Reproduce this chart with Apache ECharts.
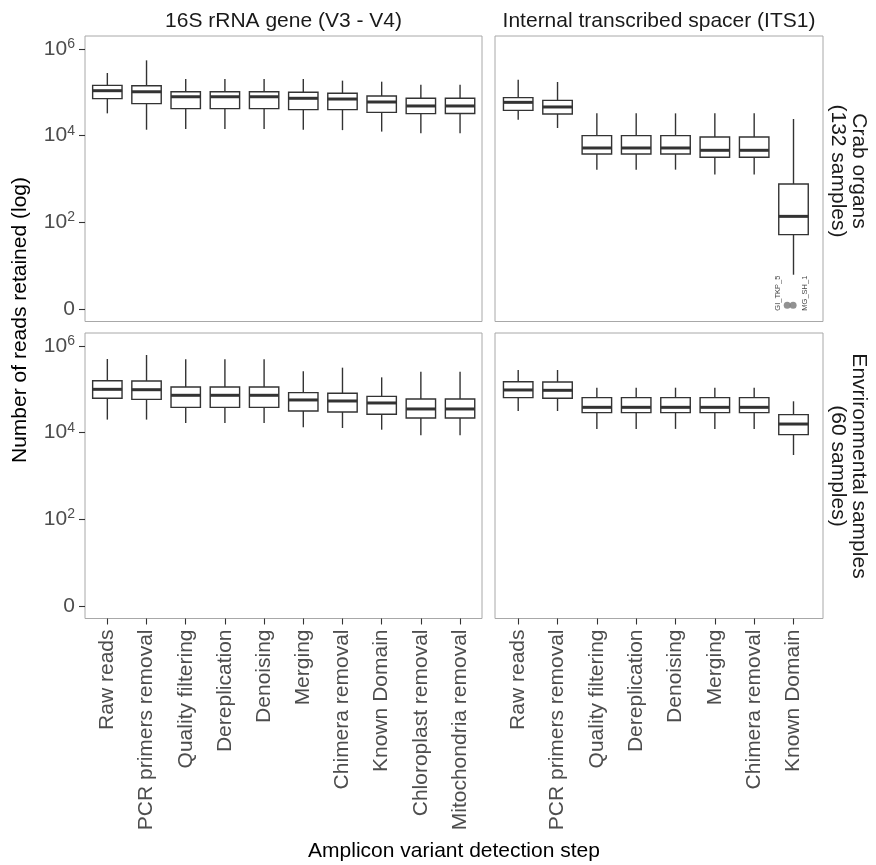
<!DOCTYPE html>
<html><head><meta charset="utf-8">
<script src="https://cdn.jsdelivr.net/npm/echarts@6/dist/echarts.min.js"></script>
<style>html,body{margin:0;padding:0;background:#fff}#c{width:876px;height:865px}</style>
</head><body><div id="c"></div>
<script>
// ---------- data ----------
const steps16S = ['Raw reads','PCR primers removal','Quality filtering','Dereplication','Denoising','Merging','Chimera removal','Known Domain','Chloroplast removal','Mitochondria removal'];
const stepsITS = ['Raw reads','PCR primers removal','Quality filtering','Dereplication','Denoising','Merging','Chimera removal','Known Domain'];
const yTickValues = [0, 2, 4, 6];           // exponents shown on the axis (0 => "0")
const stripTop = ['16S rRNA gene (V3 - V4)', 'Internal transcribed spacer (ITS1)'];
const stripRight = ['Crab organs\n(132 samples)', 'Envrironmental samples\n(60 samples)'];
const yTitle = 'Number of reads retained (log)';
const xTitle = 'Amplicon variant detection step';

// five-number summaries of reads: [min, Q1, median, Q3, max]
const crab16S = [
  [32700, 71500, 109000, 145000, 279000],
  [13700, 54700, 103000, 142000, 547000],
  [14300, 42000, 79000, 103000, 203000],
  [14300, 42000, 79000, 103000, 203000],
  [14300, 42000, 79000, 103000, 203000],
  [13700, 39800, 72800, 100000, 203000],
  [13400, 39800, 70000, 95000, 186000],
  [12400, 34500, 59800, 82000, 176000],
  [11300, 32200, 48400, 72800, 150000],
  [11300, 32500, 48400, 72800, 150000]
];
const crabITS = [
  [23400, 38400, 58700, 75400, 196000],
  [15000, 31600, 45900, 65300, 173000],
  [1640, 3780, 5190, 10000, 32700],
  [1640, 3780, 5190, 10000, 32700],
  [1640, 3780, 5190, 10000, 32700],
  [1260, 3160, 4590, 9300, 32700],
  [1260, 3160, 4590, 9300, 32700],
  [6, 52, 137, 767, 24200]
];
const env16S = [
  [20000, 62000, 100000, 158000, 501000],
  [20000, 58700, 98000, 156000, 620000],
  [16700, 38400, 72800, 113000, 492000],
  [16700, 38400, 72800, 113000, 492000],
  [16700, 38400, 72800, 113000, 492000],
  [13300, 31600, 56800, 83800, 260000],
  [12800, 30000, 53800, 80900, 316000],
  [11700, 26500, 48400, 68900, 189000],
  [8680, 21800, 35200, 59800, 256000],
  [8680, 21800, 35200, 59800, 256000]
];
const envITS = [
  [31600, 64300, 96600, 150000, 279000],
  [31600, 62000, 94900, 148000, 279000],
  [12200, 29000, 38400, 64300, 109000],
  [12200, 29000, 38400, 64300, 109000],
  [12200, 29000, 38400, 64300, 109000],
  [12200, 29000, 38400, 64300, 109000],
  [12200, 29000, 38400, 64300, 109000],
  [3050, 9000, 15800, 26000, 52900]
];
// outliers (crab organs, ITS1, Known Domain)
const outlierNames = ['GI_TKP_5', 'MG_SH_1'];
const outlierReads = [0.4, 0.4];
const outlierStep = 'Known Domain';

// ---------- chart ----------
const FONT = "'Liberation Sans', Arial, Helvetica, sans-serif";
const tf = v => Math.asinh(v / 2) / Math.LN10;   // pseudo-log10 scale

const panels = [
  {grid:{left:85,  top:36,  width:397, height:285.5}, cats:steps16S, stats:crab16S, xmin:-0.57, xmax:9.56, yl:true,  xl:false},
  {grid:{left:495, top:36,  width:328, height:285.5}, cats:stepsITS, stats:crabITS, xmin:-0.59, xmax:7.75, yl:false, xl:false},
  {grid:{left:85,  top:333, width:397, height:285.5}, cats:steps16S, stats:env16S,  xmin:-0.57, xmax:9.56, yl:true,  xl:true},
  {grid:{left:495, top:333, width:328, height:285.5}, cats:stepsITS, stats:envITS,  xmin:-0.59, xmax:7.75, yl:false, xl:true}
];

const renderBox = (params, api) => {
  const x = api.value(0);
  const lo = api.coord([x, api.value(1)]);
  const q1 = api.coord([x, api.value(2)]);
  const md = api.coord([x, api.value(3)]);
  const q3 = api.coord([x, api.value(4)]);
  const hi = api.coord([x, api.value(5)]);
  const hw = api.size([0.75, 0])[0] / 2;
  const st = {stroke:'#333333', lineWidth:1.4};
  return {type:'group', children:[
    {type:'line', shape:{x1:lo[0], y1:lo[1], x2:q1[0], y2:q1[1]}, style:st},
    {type:'line', shape:{x1:q3[0], y1:q3[1], x2:hi[0], y2:hi[1]}, style:st},
    {type:'rect', shape:{x:q1[0]-hw, y:q3[1], width:2*hw, height:q1[1]-q3[1]}, style:{fill:'#ffffff', stroke:'#333333', lineWidth:1.4}},
    {type:'line', shape:{x1:md[0]-hw, y1:md[1], x2:md[0]+hw, y2:md[1]}, style:{stroke:'#333333', lineWidth:3}}
  ]};
};

const grids = [], xAxes = [], yAxes = [], series = [];
panels.forEach((p, i) => {
  grids.push(Object.assign({show:true, borderColor:'#a8a8a8', borderWidth:1, backgroundColor:'#ffffff'}, p.grid));
  const idx = p.cats.map((_, j) => j);
  xAxes.push({
    type:'value', gridIndex:i, min:p.xmin, max:p.xmax, position:'bottom',
    axisLine:{show:false, onZero:false}, splitLine:{show:false},
    axisTick:{show:p.xl, customValues:idx, length:6, lineStyle:{color:'#333333', width:1.1}},
    axisLabel:{show:p.xl, customValues:idx, rotate:90, margin:11, fontSize:21, color:'#4d4d4d',
      fontFamily:FONT, formatter:v => p.cats[Math.round(v)]}
  });
  yAxes.push({
    type:'value', gridIndex:i, min:-0.29, max:6.3, position:'left',
    axisLine:{show:false, onZero:false}, splitLine:{show:false},
    axisTick:{show:p.yl, customValues:yTickValues, length:6, lineStyle:{color:'#333333', width:1.1}},
    axisLabel:{show:p.yl, customValues:yTickValues, margin:10,
      formatter:v => v === 0 ? '{b|0}' : '{b|10}{s|' + v + '}',
      rich:{
        b:{fontSize:21, color:'#4d4d4d', fontFamily:FONT, lineHeight:24},
        s:{fontSize:14, color:'#4d4d4d', fontFamily:FONT, verticalAlign:'top', lineHeight:14}
      }}
  });
  series.push({
    type:'custom', xAxisIndex:i, yAxisIndex:i, silent:true,
    data:p.stats.map((s, j) => [j].concat(s.map(tf))),
    encode:{x:0, y:[1,2,3,4,5]},
    renderItem:renderBox
  });
});

const kd = stepsITS.indexOf(outlierStep);
const jitter = [-0.16, -0.01];
const labelPos = [[-6.2, 9], [15.8, 9]];
series.push({
  type:'scatter', xAxisIndex:1, yAxisIndex:1, symbolSize:7, silent:true,
  itemStyle:{color:'#7f7f7f', opacity:0.85},
  data:outlierNames.map((n, k) => ({
    name:n, value:[kd + jitter[k], tf(outlierReads[k])],
    label:{show:true, formatter:'{b}', rotate:90, position:labelPos[k], align:'left', verticalAlign:'middle',
      fontSize:7.5, color:'#222222', fontFamily:FONT}
  }))
});

const txt = (text, x, y, size, color, rot) => ({
  type:'text', x, y, rotation:rot || 0,
  style:{text, fontSize:size, fill:color, fontFamily:FONT, align:'center', verticalAlign:'middle', lineHeight:21}
});

const chart = echarts.init(document.getElementById('c'), null, {renderer:'canvas'});
chart.setOption({
  backgroundColor:'#ffffff',
  animation:false,
  grid:grids, xAxis:xAxes, yAxis:yAxes, series,
  graphic:[
    txt(stripTop[0], 283.5, 21, 21, '#1a1a1a'),
    txt(stripTop[1], 659, 21, 21, '#1a1a1a'),
    txt(stripRight[0], 848.5, 171, 21, '#1a1a1a', -Math.PI/2),
    txt(stripRight[1], 848.5, 466, 21, '#1a1a1a', -Math.PI/2),
    txt(yTitle, 20, 320, 21, '#000000', Math.PI/2),
    txt(xTitle, 454, 851, 21, '#000000')
  ]
});
</script></body></html>
